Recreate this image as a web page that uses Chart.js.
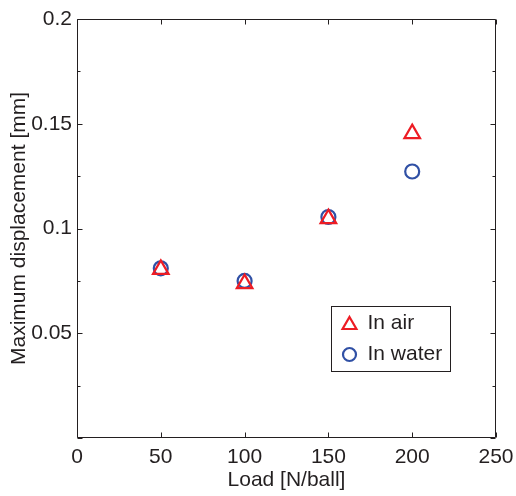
<!DOCTYPE html>
<html>
<head>
<meta charset="utf-8">
<script src="https://cdn.jsdelivr.net/npm/chart.js@4/dist/chart.umd.min.js"></script>
<style>
  html, body { margin: 0; padding: 0; background: #fff; }
  #wrap { width: 516px; height: 496px; }
</style>
</head>
<body>
<div id="wrap"><canvas id="grafico" width="516" height="496"></canvas></div>
<script>
// dados
const cargas = [50, 100, 150, 200];          // Load [N/ball]
const noAr = [0.0805, 0.0737, 0.1047, 0.1453]; // In air
const naAgua = [0.081, 0.075, 0.1055, 0.1272]; // In water
const rotulosSerie = ['In air', 'In water'];

const corTexto = '#231f20';
const fonte = { family: '"Liberation Sans", Arial, sans-serif', size: 21 };

// moldura + ticks para dentro (estilo MATLAB) e legenda dentro do gráfico
const moldura = {
  id: 'moldura',
  afterDraw(chart) {
    const c = chart.ctx, a = chart.chartArea;
    const sx = chart.scales.x, sy = chart.scales.y;
    const L = Math.round(a.left) + 0.5, R = Math.round(a.right) - 0.5;
    const T = Math.round(a.top) + 0.5, B = Math.round(a.bottom) - 0.5;
    c.save();
    c.strokeStyle = corTexto;
    c.lineWidth = 1;
    c.beginPath();
    c.rect(L, T, R - L, B - T);
    sx.ticks.forEach(t => {
      const x = Math.round(sx.getPixelForValue(t.value)) + 0.5;
      c.moveTo(x, B); c.lineTo(x, B - 5);
      c.moveTo(x, T); c.lineTo(x, T + 5);
    });
    sy.ticks.forEach(t => {
      const y = Math.round(sy.getPixelForValue(t.value)) + 0.5;
      const maior = Math.abs(t.value / 0.05 - Math.round(t.value / 0.05)) < 1e-6;
      const len = maior ? 5 : 3;
      c.moveTo(L, y); c.lineTo(L + len, y);
      c.moveTo(R, y); c.lineTo(R - len, y);
    });
    c.stroke();

    // legenda
    const bx = 331.5, by = 306.5, bw = 119, bh = 65;
    c.fillStyle = '#fff';
    c.fillRect(bx, by, bw, bh);
    c.strokeRect(bx, by, bw, bh);
    c.font = '21px ' + fonte.family;
    c.textBaseline = 'middle';
    c.fillStyle = corTexto;
    chart.data.datasets.forEach((ds, i) => {
      const yy = by + 17 + i * 31;
      c.save();
      c.strokeStyle = ds.borderColor;
      c.fillStyle = 'rgba(0,0,0,0)';
      c.lineWidth = ds.borderWidth;
      Chart.helpers.drawPoint(c, {
        pointStyle: ds.pointStyle,
        radius: ds.pointStyle === 'triangle' ? 8 : 6.5,
        borderWidth: ds.borderWidth,
        rotation: 0
      }, bx + 18, yy + (ds.pointStyle === 'triangle' ? 1.5 : 0));
      c.restore();
      c.fillStyle = corTexto;
      c.fillText(ds.label, bx + 36, yy);
    });
    c.restore();
  }
};

new Chart(document.getElementById('grafico'), {
  type: 'scatter',
  data: {
    datasets: [
      {
        label: rotulosSerie[0],
        data: cargas.map((x, i) => ({ x: x, y: noAr[i] })),
        pointStyle: 'triangle',
        pointRadius: 9,
        borderColor: 'rgb(237, 28, 36)',
        backgroundColor: 'rgba(0,0,0,0)',
        borderWidth: 2.2
      },
      {
        label: rotulosSerie[1],
        data: cargas.map((x, i) => ({ x: x, y: naAgua[i] })),
        pointStyle: 'circle',
        pointRadius: 7,
        borderColor: 'rgb(48, 80, 165)',
        backgroundColor: 'rgba(0,0,0,0)',
        borderWidth: 2.2
      }
    ]
  },
  options: {
    responsive: false,
    animation: false,
    layout: { padding: { top: 19, right: 20, left: 0, bottom: 0 } },
    plugins: {
      legend: { display: false },
      tooltip: { enabled: false }
    },
    scales: {
      x: {
        type: 'linear',
        min: 0,
        max: 250,
        grid: { display: false, drawTicks: false },
        border: { display: false },
        ticks: { stepSize: 50, padding: 7, color: corTexto, font: fonte },
        title: {
          display: true,
          text: 'Load [N/ball]',
          color: corTexto,
          font: fonte,
          padding: { top: 0, bottom: 3 }
        },
        afterFit: s => { s.height = 58; s.paddingLeft = 0; s.paddingRight = 0; }
      },
      y: {
        type: 'linear',
        min: 0,
        max: 0.2,
        grid: { display: false, drawTicks: false },
        border: { display: false },
        ticks: {
          stepSize: 0.025,
          padding: 5,
          color: corTexto,
          font: fonte,
          autoSkip: false,
          callback: v => {
            const k = v / 0.05;
            if (v <= 0 || Math.abs(k - Math.round(k)) > 1e-6) return '';
            return String(+v.toFixed(3));
          }
        },
        title: {
          display: true,
          text: 'Maximum displacement [mm]',
          color: corTexto,
          font: fonte,
          padding: { top: 7, bottom: 0 }
        },
        afterFit: s => { s.width = 77; s.paddingTop = 0; s.paddingBottom = 0; }
      }
    }
  },
  plugins: [moldura]
});
</script>
</body>
</html>
